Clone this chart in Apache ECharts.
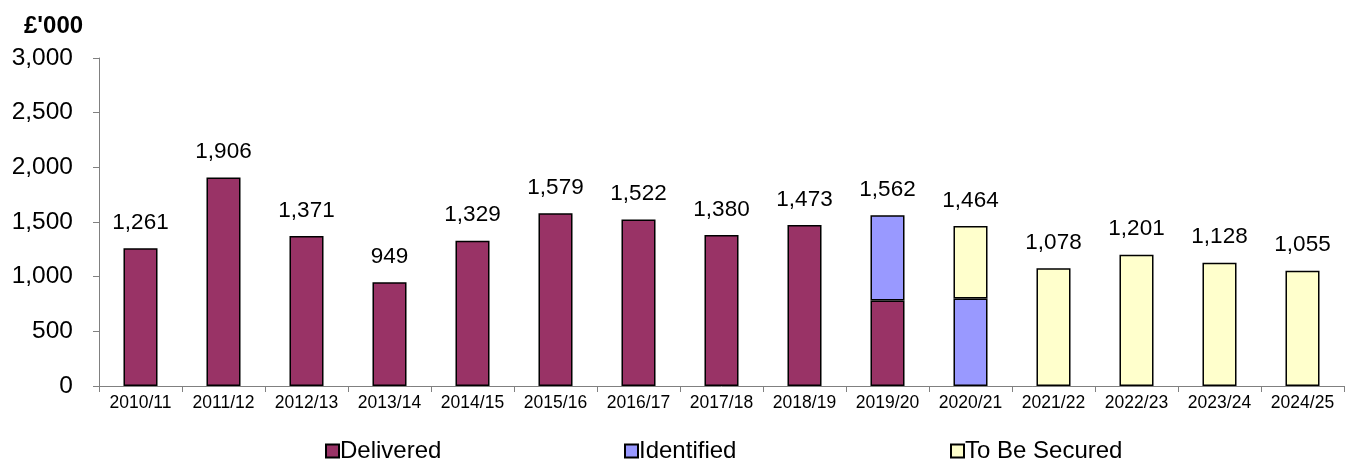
<!DOCTYPE html>
<html><head><meta charset="utf-8">
<script src="https://cdn.jsdelivr.net/npm/echarts@6/dist/echarts.min.js"></script>
<style>html,body{margin:0;padding:0;background:#fff}#c{width:1352px;height:464px}</style>
</head><body><div id="c"></div>
<script>
const categories = ['2010/11','2011/12','2012/13','2013/14','2014/15','2015/16','2016/17','2017/18','2018/19','2019/20','2020/21','2021/22','2022/23','2023/24','2024/25'];
const delivered  = [1261,1906,1371,949,1329,1579,1522,1380,1473,782,'-','-','-','-','-'];
const identified = ['-','-','-','-','-','-','-','-','-',780,800,'-','-','-','-'];
const toBeSecured= ['-','-','-','-','-','-','-','-','-','-',664,1078,1201,1128,1055];
const totals     = [1261,1906,1371,949,1329,1579,1522,1380,1473,1562,1464,1078,1201,1128,1055];
const yTicks = [0,500,1000,1500,2000,2500,3000];

const font = 'Liberation Sans, Arial, sans-serif';
const chart = echarts.init(document.getElementById('c'));
const fmt = v => v.toLocaleString('en-GB');
const barStyle = c => ({color:c, borderColor:'#000', borderWidth:1.5});
const legendText = {fontFamily:font,fontSize:24,color:'#000', padding:[0,0,0,-4]};
const mkLegend = (name,left) => ({data:[name], top:434, left:left, itemWidth:13, itemHeight:13, icon:'rect', textStyle:legendText});
chart.setOption({
  animation:false,
  textStyle:{fontFamily:font},
  title:{text:"£'000", left:19, top:9, textStyle:{fontFamily:font,fontSize:24,fontWeight:'bold',color:'#000'}},
  grid:{left:99, right:8, top:58, bottom:78},
  legend:[mkLegend('Delivered',320), mkLegend('Identified',619), mkLegend('To Be Secured',945)],
  xAxis:{
    type:'category', data:categories,
    axisLine:{lineStyle:{color:'#808080',width:1}},
    axisTick:{show:true, length:6, lineStyle:{color:'#808080'}},
    axisLabel:{fontFamily:font,fontSize:17.5,color:'#000',margin:8}
  },
  yAxis:{
    type:'value', min:yTicks[0], max:yTicks[yTicks.length-1], interval:500,
    axisLine:{show:true,lineStyle:{color:'#808080',width:1}},
    axisTick:{show:true, inside:false, length:6, lineStyle:{color:'#808080'}},
    splitLine:{show:false},
    axisLabel:{fontFamily:font,fontSize:24.5,color:'#000',margin:26,formatter:v=>fmt(v)}
  },
  series:[
    {name:'Delivered', type:'bar', stack:'s', data:delivered, barWidth:'41%', itemStyle:barStyle('#993366')},
    {name:'Identified', type:'bar', stack:'s', data:identified, itemStyle:barStyle('#9999FF')},
    {name:'To Be Secured', type:'bar', stack:'s', data:toBeSecured, itemStyle:barStyle('#FFFFCC')},
    {name:'Total', type:'bar', data:totals, barGap:'-100%', barWidth:'41%', z:1,
     itemStyle:{color:'rgba(0,0,0,0)'}, silent:true,
     label:{show:true, position:'top', distance:14, fontFamily:font, fontSize:22.5, color:'#000', formatter:p=>fmt(p.value)}}
  ]
});
</script></body></html>
